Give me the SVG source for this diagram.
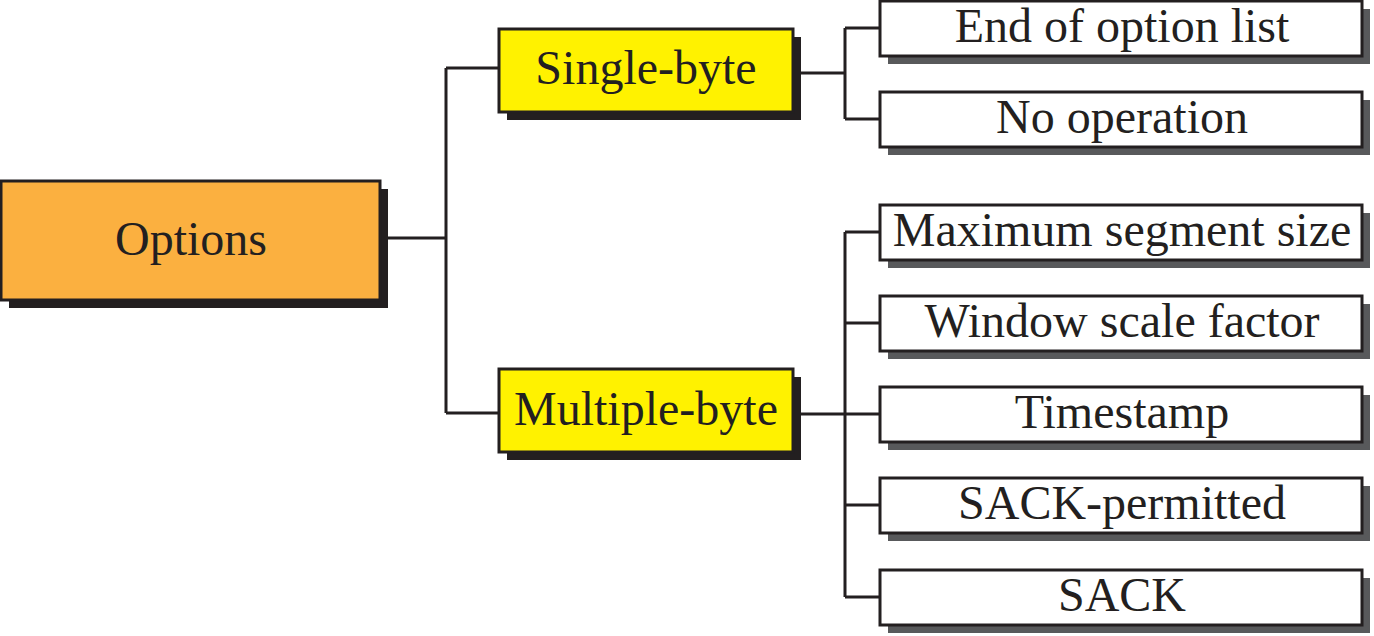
<svg xmlns="http://www.w3.org/2000/svg" width="1374" height="636" viewBox="0 0 1374 636">
<style>
.sh{fill:#231f20}
.shg{fill:#58595b}
.box{stroke:#231f20;stroke-width:3}
.orange{fill:#fbb040}
.yellow{fill:#fff200}
.white{fill:#ffffff}
.t{font-family:"Liberation Serif","Times New Roman",serif;font-size:48px;fill:#231f20;text-anchor:middle}
.ln{stroke:#231f20;stroke-width:3;fill:none}
</style>
<rect width="1374" height="636" fill="#ffffff"/>
<g id="connectors">
<path class="ln" d="M380,238 H446 M446,68 V413 M446,68 H499 M446,413 H499"/>
<path class="ln" d="M793,73 H845 M845,28 V119 M845,28 H880 M845,119 H880"/>
<path class="ln" d="M793,414 H845 M845,232 V597 M845,232 H880 M845,323 H880 M845,414 H880 M845,505 H880 M845,597 H880"/>
</g>
<g id="options">
<rect class="sh" x="9" y="189" width="379" height="119"/>
<rect class="box orange" x="1" y="181" width="379" height="119"/>
<text class="t" x="191" y="255">Options</text>
</g>
<g id="single-byte">
<rect class="sh" x="507" y="37" width="294" height="83"/>
<rect class="box yellow" x="499" y="29" width="294" height="83"/>
<text class="t" x="646" y="84">Single-byte</text>
</g>
<g id="multiple-byte">
<rect class="sh" x="507" y="377" width="294" height="83"/>
<rect class="box yellow" x="499" y="369" width="294" height="83"/>
<text class="t" x="646" y="425">Multiple-byte</text>
</g>
<g id="end-of-option-list">
<rect class="shg" x="888" y="9" width="482" height="55"/>
<rect class="box white" x="880" y="1" width="482" height="55"/>
<text class="t" x="1122" y="42">End of option list</text>
</g>
<g id="no-operation">
<rect class="shg" x="888" y="100" width="482" height="55"/>
<rect class="box white" x="880" y="92" width="482" height="55"/>
<text class="t" x="1122" y="133">No operation</text>
</g>
<g id="maximum-segment-size">
<rect class="shg" x="888" y="213" width="482" height="55"/>
<rect class="box white" x="880" y="205" width="482" height="55"/>
<text class="t" x="1122" y="246">Maximum segment size</text>
</g>
<g id="window-scale-factor">
<rect class="shg" x="888" y="304" width="482" height="55"/>
<rect class="box white" x="880" y="296" width="482" height="55"/>
<text class="t" x="1122" y="337">Window scale factor</text>
</g>
<g id="timestamp">
<rect class="shg" x="888" y="395" width="482" height="55"/>
<rect class="box white" x="880" y="387" width="482" height="55"/>
<text class="t" x="1122" y="428">Timestamp</text>
</g>
<g id="sack-permitted">
<rect class="shg" x="888" y="486" width="482" height="55"/>
<rect class="box white" x="880" y="478" width="482" height="55"/>
<text class="t" x="1122" y="519">SACK-permitted</text>
</g>
<g id="sack">
<rect class="shg" x="888" y="578" width="482" height="55"/>
<rect class="box white" x="880" y="570" width="482" height="55"/>
<text class="t" x="1122" y="611">SACK</text>
</g>
</svg>
